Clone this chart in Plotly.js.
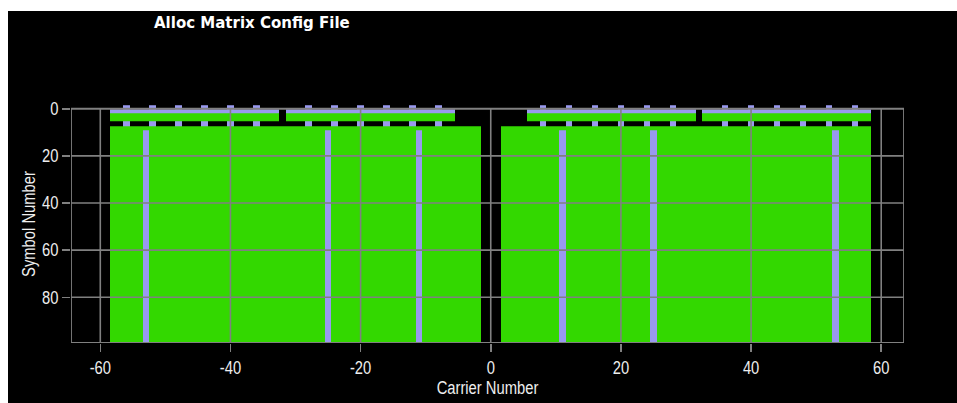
<!DOCTYPE html>
<html>
<head>
<meta charset="utf-8">
<script src="https://cdn.plot.ly/plotly-3.0.1.min.js"></script>
<style>
  html, body { margin: 0; padding: 0; background: #ffffff; width: 957px; height: 403px; overflow: hidden; }
  #chart { position: absolute; left: 8px; top: 11px; width: 949px; height: 392px; background: #000; }
</style>
</head>
<body>
<div id="chart"></div>
<script>
// ---- data ----
const carrierMin = -64;           // first carrier column
const carrierMax = 63;            // last carrier column
// symbol-row boundaries (Symbol Number units), one more than the number of rows
const symbolEdges = [-1.5, 0.4, 2.1, 5.5, 7.2, 8.9, 100];
const rowNames = ['L-STF', 'L-LTF', 'SIG', 'HT-STF', 'HT-LTF', 'Data'];
// short-training carriers (every 4th, duplicated in both 20 MHz halves)
const stfCarriers = [-56, -52, -48, -44, -40, -36, -28, -24, -20, -16, -12, -8,
                      8, 12, 16, 20, 24, 28, 36, 40, 44, 48, 52, 56];
// legacy (duplicated 20 MHz) occupied carrier blocks
const legacyBlocks = [[-58, -33], [-31, -6], [6, 31], [33, 58]];
// HT 40 MHz occupied carrier blocks
const htBlocks = [[-58, -2], [2, 58]];
// pilot carriers
const pilotCarriers = [-53, -25, -11, 11, 25, 53];
// cell codes: 1 = data (green), 2 = pilot / training (lavender)
const DATA = 1, PILOT = 2;
const tickX = [-60, -40, -20, 0, 20, 40, 60];
const tickY = [0, 20, 40, 60, 80];

// ---- build matrix ----
const carriers = [];
for (let c = carrierMin; c <= carrierMax; c++) carriers.push(c);
const xEdges = carriers.map(c => c - 0.5).concat([carrierMax + 0.5]);
function emptyRow() { return carriers.map(() => null); }
function fillBlocks(row, blocks, v) {
  blocks.forEach(([a, b]) => { for (let c = a; c <= b; c++) row[c - carrierMin] = v; });
  return row;
}
function fillList(row, list, v) { list.forEach(c => { row[c - carrierMin] = v; }); return row; }

const z = [
  fillList(emptyRow(), stfCarriers, PILOT),           // L-STF
  fillBlocks(emptyRow(), legacyBlocks, PILOT),        // L-LTF
  fillBlocks(emptyRow(), legacyBlocks, DATA),         // SIG
  fillList(emptyRow(), stfCarriers, PILOT),           // HT-STF
  fillBlocks(emptyRow(), htBlocks, DATA),             // HT-LTF
  fillList(fillBlocks(emptyRow(), htBlocks, DATA), pilotCarriers, PILOT) // Data
];

const green = '#33d800';
const lav = '#9999f0';
const grid = '#808080';
const frameY = [0, 99.4];
const frameX = [carrierMin - 0.5, carrierMax + 0.5];

const shapes = [];
tickX.forEach(v => shapes.push({type: 'line', xref: 'x', yref: 'y', x0: v, x1: v, y0: frameY[0], y1: frameY[1],
  line: {color: grid, width: 1.6}, layer: 'above'}));
tickY.slice(1).forEach(v => shapes.push({type: 'line', xref: 'x', yref: 'y', x0: frameX[0], x1: frameX[1], y0: v, y1: v,
  line: {color: grid, width: 1.6}, layer: 'above'}));
shapes.push({type: 'rect', xref: 'x', yref: 'y', x0: frameX[0], x1: frameX[1], y0: frameY[0], y1: frameY[1],
  line: {color: grid, width: 1.8}, fillcolor: 'rgba(0,0,0,0)', layer: 'above'});

const axFont = 'Liberation Sans, Arial, sans-serif';

Plotly.newPlot('chart', [{
  type: 'heatmap',
  x: xEdges,
  y: symbolEdges,
  z: z,
  zmin: 1, zmax: 2,
  colorscale: [[0, green], [0.5, green], [0.5, lav], [1, lav]],
  showscale: false,
  hoverinfo: 'skip'
}], {
  width: 949, height: 392,
  paper_bgcolor: '#000000', plot_bgcolor: '#000000',
  margin: {l: 63, r: 53, t: 94, b: 60},
  title: {text: 'Alloc Matrix Config File', xref: 'container', yref: 'container',
          x: 146 / 949, xanchor: 'left', y: 1 - 12 / 392, yanchor: 'middle',
          font: {family: 'DejaVu Sans, sans-serif', size: 15, color: '#ffffff', weight: 'bold'}},
  xaxis: {range: frameX, tickvals: tickX, ticktext: tickX.map(String), ticks: 'outside', ticklen: 8,
          tickwidth: 1.5, tickcolor: grid, showgrid: false, zeroline: false, showline: false,
          tickfont: {family: axFont, size: 18, color: '#eeeeee'},
          title: {text: 'Carrier Number', font: {family: axFont, size: 18, color: '#eeeeee'}, standoff: 2}},
  yaxis: {range: [frameY[1], -1.6], tickvals: tickY, ticktext: tickY.map(String), ticks: 'outside', ticklen: 8,
          tickwidth: 1.5, tickcolor: grid, showgrid: false, zeroline: false, showline: false,
          tickfont: {family: axFont, size: 18, color: '#eeeeee'},
          title: {text: 'Symbol Number', font: {family: axFont, size: 18, color: '#eeeeee'}, standoff: 4}},
  shapes: shapes,
  showlegend: false
}, {displayModeBar: false, staticPlot: true}).then(gd => {
  // the reference uses a condensed face: compress the axis texts horizontally
  gd.querySelectorAll('.xtick text, .ytick text, .g-xtitle text, .g-ytitle text').forEach(t => {
    const w = t.getComputedTextLength();
    if (w > 0) {
      t.setAttribute('textLength', (w * 0.82).toFixed(1));
      t.setAttribute('lengthAdjust', 'spacingAndGlyphs');
    }
  });
  const yt = gd.querySelector('.g-ytitle');
  if (yt) yt.setAttribute('transform', 'translate(6,0)');
});
</script>
</body>
</html>
